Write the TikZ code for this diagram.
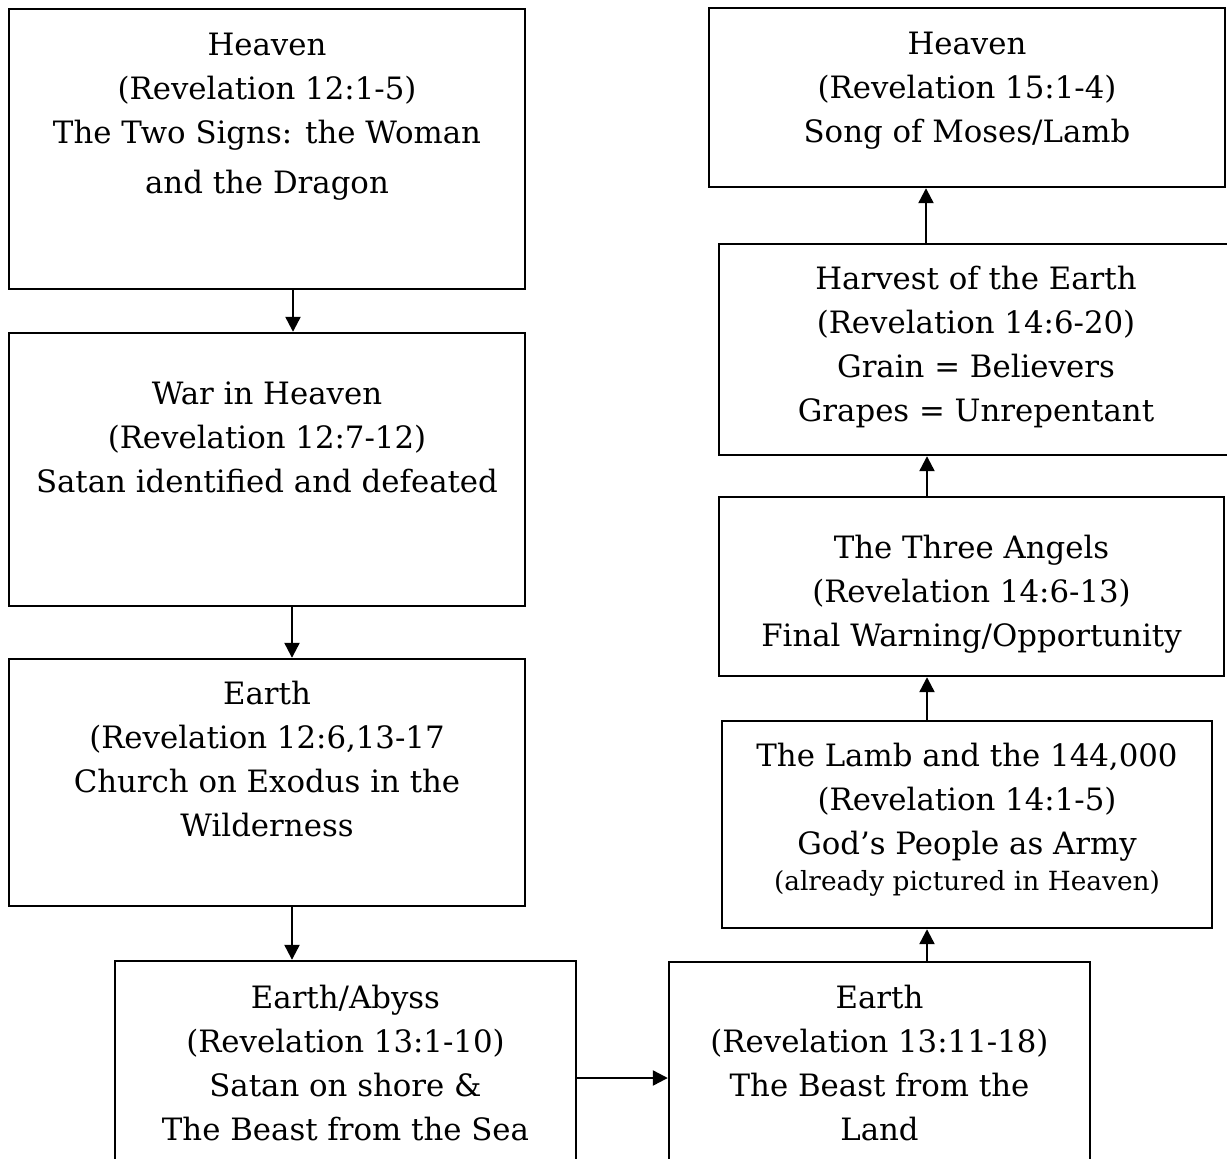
\documentclass[tikz,border=0pt]{standalone}
\usepackage{fontspec}
\setmainfont{DejaVu Serif}
\usetikzlibrary{arrows.meta}
\newcommand\myst{\rule{0pt}{30pt}}
\begin{document}
\begin{tikzpicture}[x=1pt,y=-1pt,
  box/.style={draw, line width=2.4pt, inner sep=0pt, rectangle},
  txt/.style={align=center, inner sep=0pt, anchor=north, font=\fontsize{30.8}{44}\selectfont},
  arr/.style={line width=2.3pt, -{Triangle[width=15pt,length=15pt]}}]
\useasboundingbox (0,0) rectangle (1227,1159);
\clip (0,0) rectangle (1227,1159);
% boxes
\node[box, minimum width=516pt, minimum height=280pt] (b1) at (267,149) {};
\node[box, minimum width=516pt, minimum height=273pt] (b2) at (267,469.5) {};
\node[box, minimum width=516pt, minimum height=247pt] (b3) at (267,782.5) {};
\node[box, minimum width=461pt, minimum height=239pt] (b4) at (345.5,1080.5) {};
\node[box, minimum width=421pt, minimum height=238pt] (b5) at (879.5,1081) {};
\node[box, minimum width=516pt, minimum height=179pt] (b6) at (967,97.5) {};
\node[box, minimum width=510pt, minimum height=211pt] (b7) at (974,349.5) {};
\node[box, minimum width=505pt, minimum height=179pt] (b8) at (971.5,586.5) {};
\node[box, minimum width=490pt, minimum height=207pt] (b9) at (967,824.5) {};
% texts
\node[txt] (t1) at (267,25) {\myst Heaven\\(Revelation 12:1-5)\\The Two Signs: the Woman\\[6pt]and the Dragon};
\node[txt] (t2) at (267,374) {\myst War in Heaven\\(Revelation 12:7-12)\\Satan identified and defeated};
\node[txt] (t3) at (267,674) {\myst Earth\\(Revelation 12:6,13-17\\Church on Exodus in the\\Wilderness};
\node[txt] (t4) at (345.5,978) {\myst Earth/Abyss\\(Revelation 13:1-10)\\Satan on shore \&\\The Beast from the Sea};
\node[txt] (t5) at (879.5,978) {\myst Earth\\(Revelation 13:11-18)\\The Beast from the\\Land};
\node[txt] (t6) at (967,24) {\myst Heaven\\(Revelation 15:1-4)\\Song of Moses/Lamb};
\node[txt] (t7) at (976,259) {\myst Harvest of the Earth\\(Revelation 14:6-20)\\Grain = Believers\\Grapes = Unrepentant};
\node[txt] (t8) at (971.5,528) {\myst The Three Angels\\(Revelation 14:6-13)\\Final Warning/Opportunity};
\node[txt] (t9) at (967,736) {\myst The Lamb and the 144,000\\(Revelation 14:1-5)\\God’s People as Army\\[-8pt]{\fontsize{26.4}{30}\selectfont (already pictured in Heaven)}};
% connector guides
\coordinate (xa) at (293,0);
\coordinate (xb) at (292,0);
\coordinate (xc) at (927,0);
\coordinate (xd) at (926,0);
\coordinate (yh) at (0,1078);
% connectors
\draw[arr] (b1.south -| xa) -- (b2.north -| xa);
\draw[arr] (b2.south -| xb) -- (b3.north -| xb);
\draw[arr] (b3.south -| xb) -- (b4.north -| xb);
\draw[arr] (b4.east |- yh) -- (b5.west |- yh);
\draw[arr] (b5.north -| xc) -- (b9.south -| xc);
\draw[arr] (b9.north -| xc) -- (b8.south -| xc);
\draw[arr] (b8.north -| xc) -- (b7.south -| xc);
\draw[arr] (b7.north -| xd) -- (b6.south -| xd);
\end{tikzpicture}
\end{document}
